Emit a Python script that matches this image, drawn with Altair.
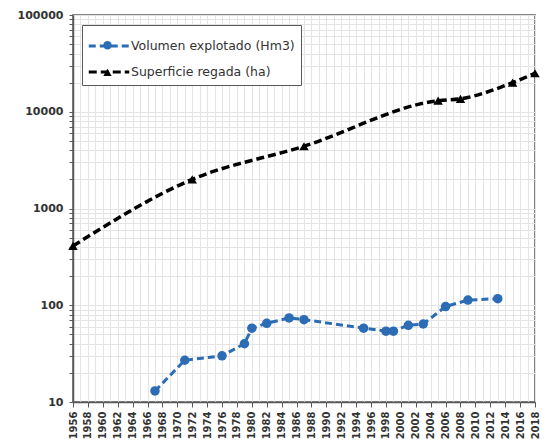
import altair as alt
import pandas as pd

series_names = ["Volumen explotado (Hm3)", "Superficie regada (ha)"]

vol_years = [1967, 1971, 1976, 1979, 1980, 1982, 1985, 1987, 1995, 1998, 1999, 2001, 2003, 2006, 2009, 2013]
vol_values = [13, 27, 30, 40, 58, 65, 74, 71, 58, 54, 54, 62, 64, 97, 113, 117]

sup_years = [1956, 1972, 1987, 2005, 2008, 2015, 2018]
sup_values = [410, 2000, 4400, 13000, 13600, 20000, 25000]

x_ticks = list(range(1956, 2019))
y_ticks = [d * k for d in [10, 100, 1000, 10000] for k in range(1, 10)] + [100000]

df = pd.DataFrame({"year": vol_years, "value": vol_values, "serie": series_names[0]})
df = pd.concat(
    [df, pd.DataFrame({"year": sup_years, "value": sup_values, "serie": series_names[1]})],
    ignore_index=True,
)

blue = "#2b6cb4"
axis_col = "#595959"
label_col = "#333333"
grid_col = "#e4e4e4"

x_enc = alt.X(
    "year:Q",
    title=None,
    scale=alt.Scale(domain=[1956, 2018], nice=False, zero=False),
    axis=alt.Axis(
        values=x_ticks,
        format="d",
        labelExpr="datum.value % 2 == 0 ? datum.label : ''",
        labelAngle=270,
        labelFont="DejaVu Sans",
        labelFontSize=10,
        labelFontWeight="bold",
        labelColor=label_col,
        labelPadding=4,
        labelOverlap=False,
        grid=True,
        gridColor=grid_col,
        gridWidth=1,
        domainColor=axis_col,
        domainWidth=1.5,
        tickSize=5,
        tickWidth=1,
        tickColor={"condition": {"test": "datum.value % 2 == 1", "value": "transparent"}, "value": axis_col},
    ),
)

y_enc = alt.Y(
    "value:Q",
    title=None,
    scale=alt.Scale(type="log", domain=[10, 100000], nice=False),
    axis=alt.Axis(
        values=y_ticks,
        labelExpr="indexof([10,100,1000,10000,100000], datum.value) >= 0 ? format(datum.value, 'd') : ''",
        labelFont="DejaVu Sans",
        labelFontSize=11,
        labelFontWeight="bold",
        labelColor=label_col,
        labelPadding=6,
        labelOverlap=False,
        grid=True,
        gridColor=grid_col,
        gridWidth=1,
        domainColor=axis_col,
        domainWidth=1.5,
        tickSize=4,
        tickColor=axis_col,
    ),
)

color_scale = alt.Scale(domain=series_names, range=[blue, "#000000"])
dash_scale = alt.Scale(domain=series_names, range=[[7, 4], [8, 4]])

line_legend = alt.Legend(
    title=None,
    orient="none",
    legendX=9,
    legendY=10,
    symbolType="M-1.5,0H1.5",
    symbolSize=729,
    symbolOffset=6,
    symbolStrokeWidth=3,
    labelFont="DejaVu Sans",
    labelFontSize=12.5,
    labelColor=label_col,
    labelLimit=300,
    labelOffset=7,
    rowPadding=4,
    padding=6,
    fillColor="white",
    strokeColor=axis_col,
)


def marker_legend(y):
    return alt.Legend(
        title=None,
        orient="none",
        legendX=9,
        legendY=y,
        symbolSize=70,
        symbolOffset=21,
        symbolStrokeWidth=0,
        labelExpr="''",
        labelFontSize=1,
        padding=0,
    )


base = alt.Chart(df)
blue_data = base.transform_filter(alt.datum.serie == series_names[0])
black_data = base.transform_filter(alt.datum.serie == series_names[1])

blue_line = blue_data.mark_line(strokeWidth=3).encode(
    x=x_enc,
    y=y_enc,
    color=alt.Color("serie:N", scale=color_scale, legend=line_legend),
    strokeDash=alt.StrokeDash("serie:N", scale=dash_scale, legend=line_legend),
)
black_line = black_data.mark_line(strokeWidth=3.5, interpolate="monotone").encode(
    x=x_enc,
    y=y_enc,
    color=alt.Color("serie:N", scale=color_scale, legend=line_legend),
    strokeDash=alt.StrokeDash("serie:N", scale=dash_scale, legend=line_legend),
)
blue_pts = blue_data.mark_point(shape="circle", filled=True, size=90, opacity=1, color=blue).encode(
    x=x_enc,
    y=y_enc,
    shape=alt.Shape(
        "serie:N",
        scale=alt.Scale(domain=[series_names[0]], range=["circle"]),
        legend=marker_legend(25.8),
    ),
)
black_pts = black_data.mark_point(shape="triangle-up", filled=True, size=90, opacity=1, color="#000000").encode(
    x=x_enc,
    y=y_enc,
    shape=alt.Shape(
        "serie:N",
        scale=alt.Scale(domain=[series_names[1]], range=["triangle-up"]),
        legend=marker_legend(52.8),
    ),
)

chart = (
    alt.layer(blue_line, black_line, blue_pts, black_pts)
    .resolve_scale(shape="independent")
    .properties(
        width=462,
        height=387,
        autosize=alt.AutoSizeParams(type="none"),
        padding={"left": 65, "top": 7, "right": 6, "bottom": 37},
        background="white",
    )
    .configure_view(stroke=axis_col, strokeWidth=1.5)
)

chart.save("out.html", embed_options={"renderer": "svg", "actions": False})
